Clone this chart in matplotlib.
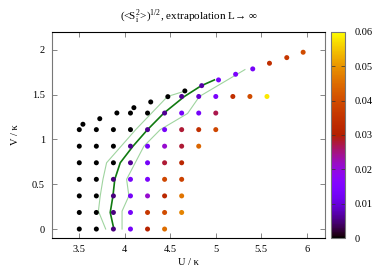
import numpy as np
import matplotlib
matplotlib.use("Agg")
import matplotlib.pyplot as plt

plt.rcParams["font.family"] = ["Liberation Serif", "DejaVu Serif"]
plt.rcParams["mathtext.fontset"] = "stix"

# grid of (U, V) points
u_grid = [3.5, 3.6875, 3.875, 4.0625, 4.25, 4.4375, 4.625, 4.8125, 5.0, 5.1875, 5.375, 5.5625]
v_rows = [0.0, 0.185, 0.37, 0.555, 0.74, 0.925, 1.11, 1.295, 1.48]
row_start = [0, 0, 0, 0, 0, 0, 0, 3, 6]
row_vals = [
    [0.0, 0.0, 0.005, 0.013, 0.031, 0.045],
    [0.0, 0.0, 0.005, 0.013, 0.036, 0.040, 0.048],
    [0.0, 0.0, 0.005, 0.013, 0.021, 0.032, 0.046],
    [0.0, 0.0, 0.005, 0.013, 0.014, 0.039, 0.038],
    [0.0, 0.0, 0.0, 0.006, 0.013, 0.028, 0.032],
    [0.0, 0.0, 0.0, 0.006, 0.013, 0.021, 0.028, 0.044],
    [0.0, 0.0, 0.0, 0.0, 0.006, 0.013, 0.028, 0.034, 0.039],
    [0.0, 0.0, 0.006, 0.013, 0.013, 0.027],
    [0.006, 0.009, 0.014, 0.034, 0.040, 0.058],
]

# points along the upper diagonal
diag_u = [3.54, 3.725, 3.913, 4.10, 4.285, 4.473, 4.66, 4.845, 5.03, 5.218, 5.406, 5.59, 5.78, 5.96]
diag_v = [1.170, 1.232, 1.296, 1.355, 1.419, 1.478, 1.542, 1.601, 1.665, 1.728, 1.788, 1.851, 1.914, 1.974]
diag_val = [0.0, 0.0, 0.0, 0.0, 0.0, 0.0, 0.0, 0.007, 0.013, 0.014, 0.013, 0.034, 0.036, 0.040]

# transition line and its bounds
mid_u = [3.88, 3.84, 3.87, 3.89, 3.95, 4.09, 4.25, 4.43, 4.655, 4.84, 4.985]
mid_v = [0.0, 0.185, 0.37, 0.555, 0.74, 0.925, 1.11, 1.295, 1.48, 1.60, 1.665]
lo_u = [3.79, 3.71, 3.73, 3.76, 3.80, 3.96, 4.12, 4.47, 4.66]
lo_v = [0.0, 0.2, 0.37, 0.555, 0.74, 0.925, 1.11, 1.48, 1.54]
hi_u = [3.97, 3.97, 4.045, 4.02, 4.21, 4.39, 4.69, 4.82, 5.32]
hi_v = [0.0, 0.2, 0.37, 0.555, 0.925, 1.11, 1.29, 1.48, 1.78]

pts_u, pts_v, pts_c = [], [], []
for v, s, vals in zip(v_rows, row_start, row_vals):
    for k, c in enumerate(vals):
        pts_u.append(u_grid[s + k])
        pts_v.append(v)
        pts_c.append(c)
pts_u += diag_u
pts_v += diag_v
pts_c += diag_val

fig = plt.figure(figsize=(3.9, 2.73), dpi=100)
ax = fig.add_axes([0.1333, 0.1282, 0.70, 0.7546])
cax = fig.add_axes([0.8487, 0.1282, 0.0359, 0.7546])

ax.plot(lo_u, lo_v, color="#9fd49f", lw=0.8, zorder=1)
ax.plot(hi_u, hi_v, color="#9fd49f", lw=0.8, zorder=1)
ax.plot(mid_u, mid_v, color="#107a10", lw=1.2, zorder=2)
sc = ax.scatter(pts_u, pts_v, c=pts_c, cmap="gnuplot", vmin=0, vmax=0.06,
                s=13, linewidths=0, zorder=3)

ax.set_xlim(3.2, 6.2)
ax.set_ylim(-0.1, 2.2)
ax.set_xticks([3.5, 4, 4.5, 5, 5.5, 6])
ax.set_xticklabels(["3.5", "4", "4.5", "5", "5.5", "6"])
ax.set_yticks([0, 0.5, 1, 1.5, 2])
ax.set_yticklabels(["0", "0.5", "1", "1.5", "2"])
ax.tick_params(direction="in", length=3.5, width=0.5, top=True, right=True,
               labelsize=7.5, pad=5, color="#555555")
for sp in ax.spines.values():
    sp.set_linewidth(0.8)
ax.spines["left"].set_color("#777777")
ax.spines["right"].set_color("#777777")

ax.set_xlabel("U / κ", fontsize=7.5, labelpad=3)
ax.set_ylabel("V / κ", fontsize=7.5, labelpad=9)
ax.set_title(r"(<S$_\mathregular{i}^\mathregular{2}$>)$^\mathregular{1/2}$, extrapolation L→ ∞",
             fontsize=8, pad=9)

cb = fig.colorbar(sc, cax=cax)
cb.set_ticks([0, 0.01, 0.02, 0.03, 0.04, 0.05, 0.06])
cb.set_ticklabels(["0", "0.01", "0.02", "0.03", "0.04", "0.05", "0.06"])
cax.tick_params(direction="in", length=3, width=0.5, left=True, right=True,
                labelsize=7.5, pad=7, color="#333333")
cb.outline.set_linewidth(0.8)
cb.outline.set_edgecolor("#777777")

fig.savefig("out.png", dpi=100)
